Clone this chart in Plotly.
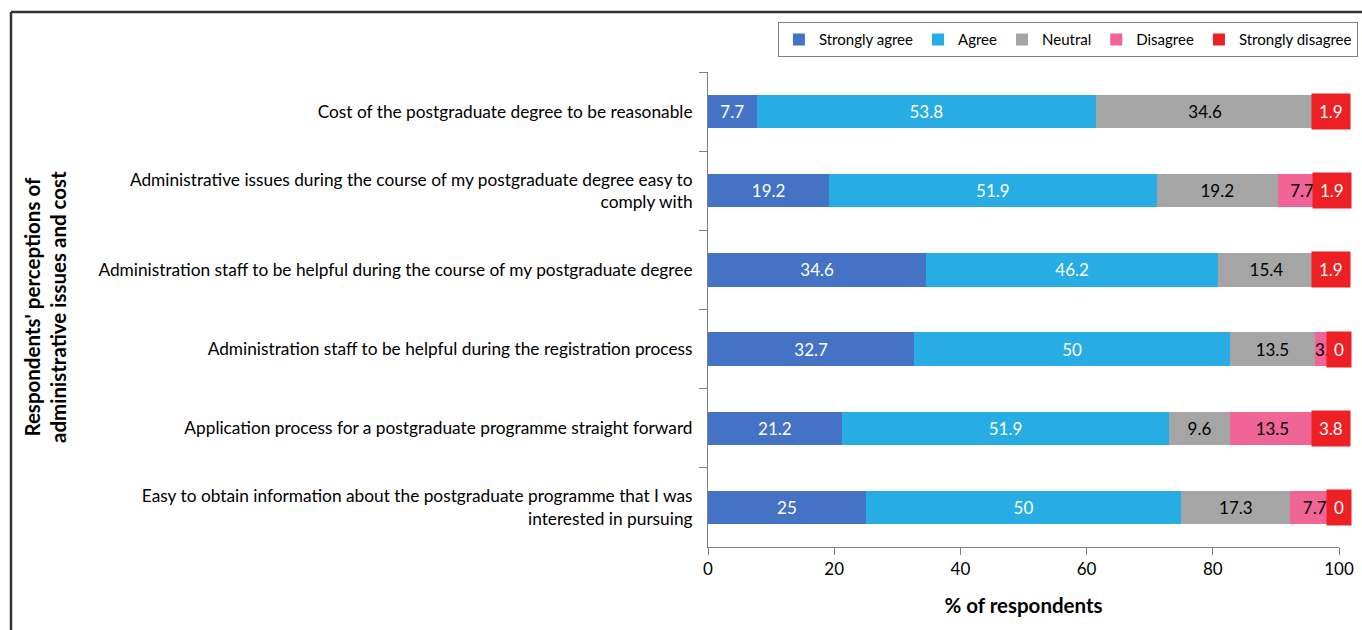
import plotly.graph_objects as go

# Categories listed top to bottom
categories = [
    "Cost of the postgraduate degree to be reasonable",
    "Administrative issues during the course of my postgraduate degree easy to<br>comply with",
    "Administration staff to be helpful during the course of my postgraduate degree",
    "Administration staff to be helpful during the registration process",
    "Application process for a postgraduate programme straight forward",
    "Easy to obtain information about the postgraduate programme that I was<br>interested in pursuing",
]

strongly_agree = [7.7, 19.2, 34.6, 32.7, 21.2, 25]
agree = [53.8, 51.9, 46.2, 50, 51.9, 50]
neutral = [34.6, 19.2, 15.4, 13.5, 9.6, 17.3]
disagree = [0, 7.7, 0, 3.8, 13.5, 7.7]
strongly_disagree = [1.9, 1.9, 1.9, 0, 3.8, 0]

x_ticks = [0, 20, 40, 60, 80, 100]

FONT = "Lato"
series = [
    ("Strongly agree", strongly_agree, "#4472c4", "white"),
    ("Agree", agree, "#27ade3", "white"),
    ("Neutral", neutral, "#a5a5a5", "black"),
    ("Disagree", disagree, "#f06595", "black"),
    ("Strongly disagree", strongly_disagree, "#ed2024", "white"),
]

fig = go.Figure()
for name, vals, col, tcol in series:
    show_text = name != "Strongly disagree"
    fig.add_trace(go.Bar(
        y=categories, x=vals, name=name, orientation="h",
        marker=dict(color=col, line=dict(width=0)),
        text=[(f"{v:g}" if (v > 0 and show_text) else "") for v in vals],
        textposition="inside", insidetextanchor="middle", textangle=0,
        textfont=dict(family=FONT, size=17, color=tcol),
        width=0.42,
    ))

# Strongly disagree labels sit in red boxes at the end of each bar
for i, cat in enumerate(categories):
    start = strongly_agree[i] + agree[i] + neutral[i] + disagree[i]
    centre = max(start + strongly_disagree[i] / 2, 98.8)
    fig.add_annotation(
        x=centre, y=cat, xref="x", yref="y", text=f"{strongly_disagree[i]:g}",
        showarrow=False, bgcolor="#ed2024", borderpad=7,
        font=dict(family=FONT, size=17, color="white"),
    )

# Y axis title
fig.add_annotation(
    x=-1.051, y=0.505, xref="paper", yref="paper", textangle=-90,
    xanchor="center", yanchor="middle",
    text="<b>Respondents' perceptions of<br>administrative issues and cost</b>",
    showarrow=False, font=dict(family=FONT, size=20.5, color="black"),
)

# Outer frame (left and top)
fig.add_shape(type="line", xref="paper", yref="paper", x0=-1.1046, x1=-1.1046, y0=-0.2, y1=1.1263,
              line=dict(color="#333333", width=2.5))
fig.add_shape(type="line", xref="paper", yref="paper", x0=-1.1046, x1=1.1, y0=1.1263, y1=1.1263,
              line=dict(color="#333333", width=2.5))

fig.update_layout(
    barmode="stack",
    width=1362, height=630,
    margin=dict(l=708, r=23, t=72, b=83, autoexpand=False),
    plot_bgcolor="white", paper_bgcolor="white",
    font=dict(family=FONT, size=17, color="black"),
    uniformtext=dict(mode="show", minsize=17),
    legend=dict(
        orientation="h", x=1.03, y=1.105, xanchor="right", yanchor="top",
        bordercolor="#808080", borderwidth=1, font=dict(family=FONT, size=15),
        traceorder="normal",
    ),
    xaxis=dict(
        range=[0, 100], tickvals=x_ticks, showgrid=False, zeroline=False,
        showline=True, linecolor="#808080", linewidth=1,
        ticks="outside", ticklen=7, tickcolor="#808080",
        tickfont=dict(family=FONT, size=17),
        title=dict(text="<b>% of respondents</b>", font=dict(family=FONT, size=20.5), standoff=20),
    ),
    yaxis=dict(
        autorange="reversed", showgrid=False, zeroline=False,
        showline=True, linecolor="#808080", linewidth=1,
        ticks="outside", ticklen=8, tickcolor="#808080", tickson="boundaries",
        tickfont=dict(family=FONT, size=17.3), ticklabelstandoff=11,
    ),
)

fig.write_html("out.html", config={"displayModeBar": False},
               post_script="document.body.style.margin='0';")
